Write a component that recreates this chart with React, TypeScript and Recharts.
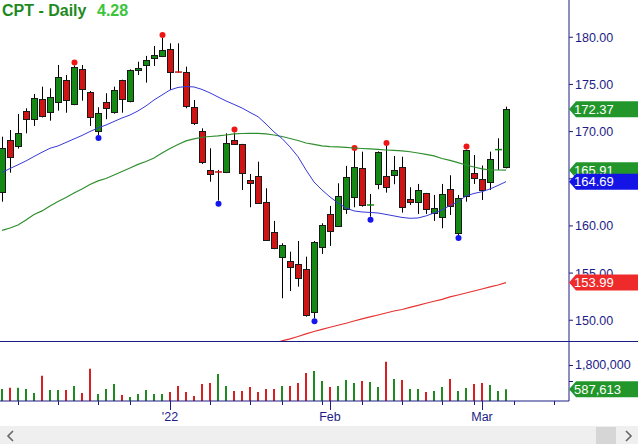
import React from "react";
import { Bar, Cell, ComposedChart, Line, ReferenceDot, XAxis, YAxis } from "recharts";

const NAVY = "#1c1c86";
const FONT = "'Liberation Sans', Arial, sans-serif";
const UP = "#148a14";
const DOWN = "#d01414";

// daily OHLC, Dec 2 2021 .. Mar 4 2022
const opens = [
  163.63, 169.11, 168.4, 172.19, 171.31, 173.43, 172.05, 173.11, 175.47, 172.85,
  176.61, 174.23, 170.0, 173.11, 172.05, 175.47, 173.28, 176.46, 177.06, 177.77,
  178.05, 178.76, 176.31, 176.35, 172.58, 170.1, 165.93, 165.72, 165.69, 169.11,
  168.66, 164.87, 165.3, 162.51, 159.33, 156.74, 156.28, 155.94, 155.41, 150.91,
  157.74, 161.27, 160.0, 161.8, 163.04, 166.11, 162.17, 164.52, 165.3, 165.4,
  166.22, 162.89, 162.57, 163.46, 161.41, 160.88, 163.89, 159.22, 163.18, 165.58,
  164.95, 164.59, 168.02, 166.18,
];
const highs = [
  169.46, 170.17, 171.87, 172.47, 173.99, 174.76, 174.59, 177.06, 176.0, 177.01,
  177.06, 174.3, 172.58, 174.06, 174.76, 175.5, 176.6, 177.41, 178.02, 179.08,
  179.93, 179.36, 179.36, 176.88, 173.35, 170.35, 168.23, 165.93, 169.82, 169.9,
  168.7, 165.51, 166.81, 163.99, 160.53, 158.16, 157.27, 158.4, 156.74, 158.4,
  160.28, 162.12, 164.52, 166.36, 167.95, 167.87, 163.39, 167.9, 168.48, 167.42,
  167.34, 164.1, 164.45, 163.5, 163.28, 164.45, 165.37, 163.28, 168.1, 167.52,
  166.4, 167.87, 169.29, 172.64,
];
const lows = [
  162.57, 165.65, 168.2, 169.82, 170.6, 171.5, 171.16, 172.22, 172.0, 172.8,
  173.28, 170.6, 169.64, 171.31, 171.9, 172.0, 173.1, 176.0, 175.19, 176.96,
  177.9, 174.41, 176.25, 172.47, 170.7, 166.57, 164.69, 162.68, 165.6, 168.58,
  163.81, 161.98, 162.4, 158.5, 157.53, 152.33, 153.1, 153.56, 150.38, 150.21,
  157.03, 157.88, 160.0, 161.27, 161.98, 162.04, 160.98, 163.89, 163.53, 164.42,
  161.41, 162.22, 161.27, 161.27, 160.53, 159.75, 161.16, 159.04, 162.57, 164.45,
  162.75, 163.81, 165.93, 166.1,
];
const closes = [
  168.3, 167.28, 169.82, 171.31, 173.53, 171.58, 173.64, 175.76, 173.35, 176.82,
  174.49, 171.58, 171.94, 172.43, 174.41, 173.43, 176.53, 176.71, 177.59, 178.12,
  178.65, 176.35, 176.29, 172.72, 170.88, 166.81, 165.51, 165.67, 168.76, 168.66,
  165.58, 164.59, 162.47, 158.51, 157.63, 157.98, 155.68, 154.45, 150.56, 158.33,
  160.1, 159.5, 163.18, 165.16, 166.22, 162.15, 162.22, 167.87, 164.1, 165.93,
  161.98, 162.61, 163.81, 161.8, 161.95, 163.36, 162.04, 162.93, 168.05, 165.05,
  163.81, 167.07, 168.09, 172.37,
];
const volumes = [
  600000, 665000, 665000, 600000, 400000, 1265000, 550000, 550000, 550000, 750000,
  400000, 1615000, 350000, 600000, 850000, 300000, 200000, 350000, 550000, 350000,
  350000, 450000, 750000, 450000, 250000, 850000, 900000, 1350000, 750000, 500000,
  500000, 700000, 450000, 600000, 600000, 750000, 750000, 900000, 1400000, 1500000,
  1000000, 700000, 750000, 1050000, 900000, 1000000, 950000, 700000, 1965000, 1100000,
  1050000, 600000, 600000, 450000, 500000, 700000, 1100000, 500000, 650000, 850000,
  900000, 800000, 500000, 587613,
];
const ma20 = [
  165.66, 166.09, 166.48, 166.89, 167.36, 167.81, 168.23, 168.48, 168.85, 169.22,
  169.59, 170.01, 170.38, 170.7, 171.07, 171.44, 171.76, 172.19, 172.72, 173.35,
  173.88, 174.41, 174.68, 174.78, 174.73, 174.47, 174.1, 173.67, 173.25, 172.88,
  172.5, 172.03, 171.58, 170.81, 169.96, 169.27, 168.37, 167.34, 165.93, 164.66,
  163.81, 163.07, 162.43, 161.9, 161.59, 161.48, 161.43, 161.37, 161.22, 161.06,
  160.9, 160.81, 160.84, 161.06, 161.37, 161.69, 162.17, 162.57, 163.18, 163.44,
  163.63, 163.92, 164.29, 164.69,
];
const ma50 = [
  159.52, 159.78, 160.1, 160.63, 161.21, 161.59, 162.12, 162.59, 163.02, 163.49,
  163.92, 164.4, 164.77, 165.03, 165.4, 165.77, 166.14, 166.52, 166.83, 167.2,
  167.73, 168.21, 168.64, 169.01, 169.22, 169.4, 169.48, 169.54, 169.64, 169.75,
  169.8, 169.82, 169.82, 169.75, 169.64, 169.48, 169.27, 169.06, 168.79, 168.64,
  168.48, 168.4, 168.37, 168.32, 168.26, 168.21, 168.16, 168.11, 168.05, 168.0,
  167.95, 167.86, 167.73, 167.58, 167.42, 167.15, 166.94, 166.71, 166.46, 166.25,
  166.04, 165.93, 165.93, 165.91,
];
const ma200 = [
  null, null, null, null, null, null, null, null, null, null,
  null, null, null, null, null, null, null, null, null, null,
  null, null, null, null, null, null, null, null, null, null,
  null, null, null, null, 147.54, 147.81, 148.02, 148.28, 148.55, 148.81,
  149.04, 149.26, 149.47, 149.68, 149.92, 150.14, 150.35, 150.56, 150.77, 150.98,
  151.14, 151.36, 151.57, 151.8, 152.01, 152.22, 152.47, 152.68, 152.89, 153.1,
  153.31, 153.53, 153.74, 153.99,
];

const pivotHighs = [9, 20, 29, 44, 48, 58];
const pivotLows = [12, 27, 39, 46, 57];

const weekTicks = [2, 7, 12, 16, 21, 26, 31, 35, 40, 41, 45, 50, 55, 59, 60, 64, 69];
const monthTicks = [21, 41, 60];
const monthLabels = ["'22", "Feb", "Mar"];
const priceTicks = [150, 155, 160, 165, 170, 175, 180];
const volTicks = [1000000, 1800000];

const X_DOMAIN = [-0.25, 70.875];
const PRICE_DOMAIN = [147.8, 183.95];
const last = closes.length - 1;

const rows = closes.map((c, i) => ({
  i,
  o: opens[i],
  h: highs[i],
  l: lows[i],
  c,
  range: [lows[i], highs[i]],
  ma20: ma20[i],
  ma50: ma50[i],
  ma200: ma200[i],
  vol: volumes[i],
  volUp: i === 0 || c >= closes[i - 1],
}));

const Candle = (props: any) => {
  const { x, y, width, height, payload } = props;
  if (!payload || height == null) return null;
  const { o, h, l, c, i } = payload;
  const cx = Math.round(x + width / 2) + 0.5;
  const k = height / (h - l);
  const py = (v: number) => y + (h - v) * k;
  const top = py(Math.max(o, c));
  const bot = py(Math.min(o, c));
  const color = c >= o ? UP : DOWN;
  return (
    <g>
      <line x1={cx} x2={cx} y1={y} y2={y + height} stroke="#000" strokeWidth={1} />
      {bot - top < 1.5 ? (
        <line x1={cx - 3.5} x2={cx + 3.5} y1={top} y2={top} stroke={color} strokeWidth={1.5} />
      ) : (
        <rect
          x={cx - 3}
          y={Math.round(top) + 0.5}
          width={6}
          height={Math.max(1, Math.round(bot - top))}
          fill={color}
          stroke="#1a1a1a"
          strokeWidth={1}
        />
      )}
      {pivotHighs.includes(i) && <circle cx={cx} cy={y - 3} r={3} fill="#f01515" />}
      {pivotLows.includes(i) && <circle cx={cx} cy={y + height + 3} r={3} fill="#1515f0" />}
    </g>
  );
};

const Badge = (props: any) => {
  const { cx, cy, color, text } = props;
  return (
    <g>
      <polygon
        points={`${cx},${cy} ${cx + 7},${cy - 8} ${cx + 69},${cy - 8} ${cx + 69},${cy + 8} ${cx + 7},${cy + 8}`}
        fill={color}
      />
      <text x={cx + 5} y={cy} dy="0.36em" fill="#fff" fontSize={13} fontFamily={FONT}>
        {text}
      </text>
    </g>
  );
};

const VolTick = (props: any) => {
  const { x, y, payload } = props;
  return (
    <g>
      <line x1={x} x2={x + 4} y1={Math.round(y) + 0.5} y2={Math.round(y) + 0.5} stroke={NAVY} />
      {payload.value === 1800000 && (
        <text x={x + 6} y={y} dy="0.355em" fill={NAVY} fontSize={12.5} fontFamily={FONT}>
          {payload.value.toLocaleString("en-US")}
        </text>
      )}
    </g>
  );
};

const DateTick = (props: any) => {
  const { x, y, payload } = props;
  const m = monthTicks.indexOf(payload.value);
  const lx = Math.round(x) + 0.5;
  return (
    <g>
      <line x1={lx} x2={lx} y1={y} y2={y + (m >= 0 ? 9 : 4)} stroke={NAVY} />
      {m >= 0 && (
        <text x={x} y={y + 20} textAnchor="middle" fill={NAVY} fontSize={12.5} fontFamily={FONT}>
          {monthLabels[m]}
        </text>
      )}
    </g>
  );
};

export default function App() {
  const badges = [
    { v: ma50[last] as number, color: "#22962a" },
    { v: ma20[last] as number, color: "#1414e6" },
    { v: closes[last], color: "#22962a" },
    { v: ma200[last] as number, color: "#ee2a2a" },
  ];
  const change = (closes[last] - closes[last - 1]).toFixed(2);

  return (
    <div
      style={{
        position: "relative",
        width: 638,
        height: 444,
        overflow: "hidden",
        background: "#fff",
        fontFamily: FONT,
      }}
    >
      <style>{"body{margin:0}"}</style>

      {/* price panel */}
      <div style={{ position: "absolute", left: 0, top: 0 }}>
        <ComposedChart width={638} height={341} data={rows} margin={{ top: 0, right: 0, bottom: 0, left: 0 }}>
          <XAxis type="number" dataKey="i" domain={X_DOMAIN} hide allowDataOverflow />
          <YAxis
            orientation="right"
            domain={PRICE_DOMAIN}
            ticks={priceTicks}
            interval={0}
            width={69}
            allowDataOverflow
            axisLine={{ stroke: NAVY }}
            tickLine={{ stroke: NAVY }}
            tickSize={4}
            tickMargin={2}
            tick={{ fill: NAVY, fontSize: 12.5, fontFamily: FONT }}
            tickFormatter={(v: number) => v.toFixed(2)}
          />
          <Line dataKey="ma200" stroke="#e63232" strokeWidth={1.2} dot={false} activeDot={false} isAnimationActive={false} />
          <Line dataKey="ma50" stroke="#2f8f2f" strokeWidth={1.2} dot={false} activeDot={false} isAnimationActive={false} />
          <Line dataKey="ma20" stroke="#3838d8" strokeWidth={1} dot={false} activeDot={false} isAnimationActive={false} />
          <Bar dataKey="range" barSize={6} shape={<Candle />} isAnimationActive={false} />
        </ComposedChart>
      </div>

      {/* last-value badges, layered over the price axis labels */}
      <div style={{ position: "absolute", left: 0, top: 0, pointerEvents: "none" }}>
        <ComposedChart width={638} height={341} data={rows} margin={{ top: 0, right: 0, bottom: 0, left: 0 }}>
          <XAxis type="number" dataKey="i" domain={X_DOMAIN} hide allowDataOverflow />
          <YAxis
            orientation="right"
            domain={PRICE_DOMAIN}
            width={69}
            allowDataOverflow
            axisLine={false}
            tickLine={false}
            tick={false}
          />
          {badges.map((b, k) => (
            <ReferenceDot
              key={k}
              x={X_DOMAIN[1]}
              y={b.v}
              ifOverflow="visible"
              shape={(p: any) => <Badge {...p} color={b.color} text={b.v.toFixed(2)} />}
            />
          ))}
        </ComposedChart>
      </div>

      {/* volume panel */}
      <div style={{ position: "absolute", left: 0, top: 341 }}>
        <ComposedChart width={638} height={85} data={rows} margin={{ top: 0, right: 0, bottom: 0, left: 0 }}>
          <XAxis
            type="number"
            dataKey="i"
            domain={X_DOMAIN}
            allowDataOverflow
            ticks={weekTicks}
            interval={0}
            height={25}
            tickSize={0}
            tickMargin={0}
            tickLine={false}
            axisLine={{ stroke: NAVY }}
            tick={<DateTick />}
          />
          <YAxis
            orientation="right"
            domain={[0, 3000000]}
            ticks={volTicks}
            interval={0}
            width={69}
            axisLine={{ stroke: NAVY }}
            tickLine={false}
            tickSize={0}
            tickMargin={0}
            tick={<VolTick />}
          />
          <Bar dataKey="vol" barSize={2} isAnimationActive={false}>
            {rows.map((r) => (
              <Cell key={r.i} fill={r.volUp ? "#1f8a1f" : "#d42020"} />
            ))}
          </Bar>
          <ReferenceDot
            x={X_DOMAIN[1]}
            y={volumes[last]}
            ifOverflow="visible"
            shape={(p: any) => <Badge {...p} color="#22962a" text={volumes[last].toLocaleString("en-US")} />}
          />
        </ComposedChart>
      </div>

      <svg
        width={638}
        height={444}
        style={{ position: "absolute", left: 0, top: 0, pointerEvents: "none" }}
      >
        <line x1={0} x2={638} y1={341.5} y2={341.5} stroke={NAVY} />
        <text x={2} y={16} fontSize={16} fontWeight="bold" fill="#1e8a1e" fontFamily={FONT}>
          CPT - Daily
        </text>
        <text x={97} y={16} fontSize={16} fontWeight="bold" fill="#3cc43c" fontFamily={FONT}>
          {change}
        </text>
        <rect x={0} y={426} width={638} height={18} fill="#efefef" />
        <rect x={596} y={427} width={20} height={17} fill="#d6d6d6" />
        <polyline points="13,431 8,436 13,441" fill="none" stroke="#666" strokeWidth={1.6} />
        <polyline points="626,431 631,436 626,441" fill="none" stroke="#666" strokeWidth={1.6} />
      </svg>
    </div>
  );
}
